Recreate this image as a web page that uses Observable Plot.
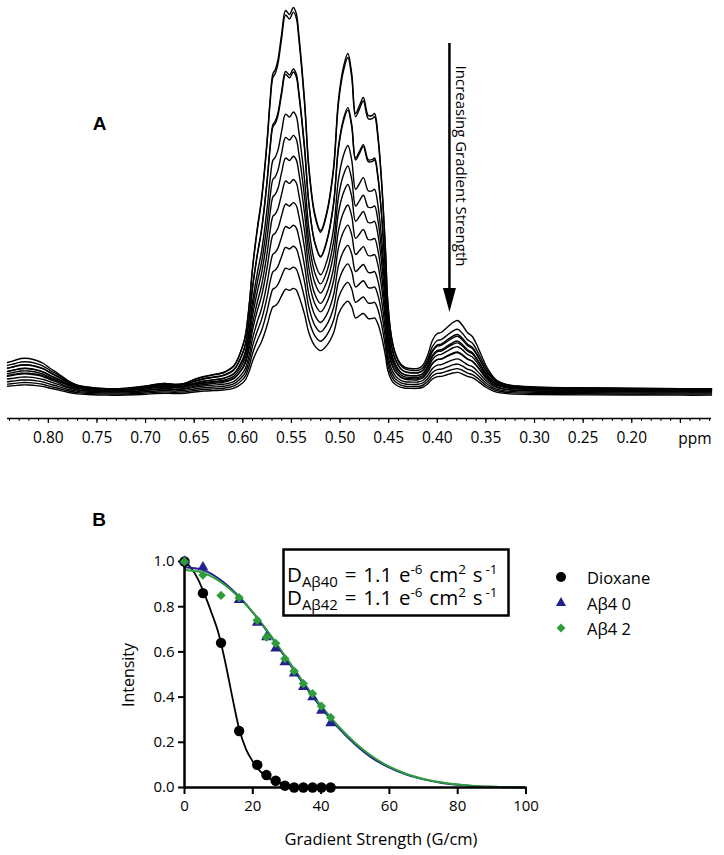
<!DOCTYPE html>
<html><head><meta charset="utf-8">
<script src="https://cdn.jsdelivr.net/npm/d3@7"></script>
<script src="https://cdn.jsdelivr.net/npm/@observablehq/plot@0.6"></script>
<style>
body{margin:0;background:#fff;width:724px;height:855px;overflow:hidden;}
svg{display:block}
</style></head><body>
<div id="a"></div><div id="b"></div>
<script>
// ---------- Panel A: DOSY stack of 1H spectra ----------
// rows: [ppm, main-peak height (least attenuated trace), minor-signal height]
const spectrum = [
 [0.842,0,28],[0.835,0,30],[0.828,0,32],[0.820,0,32],[0.812,0,30],[0.805,0,27],[0.798,0,22],
 [0.790,0,17],[0.780,0,10],[0.770,0,5],[0.760,0,3],[0.740,0,1],[0.720,0,1.5],[0.700,0,4],
 [0.690,0,6],[0.680,0,7],[0.670,0,6],[0.660,0,7],[0.650,3,8],[0.640,5,9],[0.630,7,9],
 [0.620,10,8],[0.609,18,7],[0.600,40,5],[0.597,52,5],[0.593,85,5],[0.590,118,5],[0.585,158,5],
 [0.581,185,5],[0.5775,218,5],[0.5745,252,5],[0.572,285,5],[0.569,312,5],[0.567,315,5],
 [0.564,325,5],[0.560,352,5],[0.556,375,5],[0.552,371,5],[0.548,378,5],[0.545,372,5],
 [0.5425,352,5],[0.5365,285,5],[0.532,218,5],[0.526,172,5],[0.520,155,5],[0.514,172,5],
 [0.5067,218,5],[0.5017,285,5],[0.4966,318,5],[0.492,332,5],[0.488,312,5],[0.484,272,5],
 [0.480,280,5],[0.476,288,5],[0.471,270,5],[0.467,270,5],[0.4645,272,5],[0.461,250,5],
 [0.458,215,5],[0.456,185,5],[0.453,130,5],[0.451,85,5],[0.447,45,8],[0.443,25,12],
 [0.438,12,15],[0.433,6,17],[0.428,3,19],[0.420,1,21],[0.415,0,25],[0.410,0,35],[0.405,0,50],
 [0.400,0,57],[0.396,0,58],[0.390,0,63],[0.384,0,68],[0.379,0,70],[0.374,0,65],[0.369,0,58],
 [0.364,0,54],[0.360,0,47],[0.355,0,36],[0.350,0,25],[0.345,0,17],[0.340,0,11],[0.335,0,8],
 [0.325,0,5],[0.300,0,3],[0.250,0,2],[0.200,0,1.5],[0.150,0,1],[0.118,0,1]
];
const mainScale  = [1.0,0.987,0.84,0.83,0.73,0.666,0.614,0.556,0.49,0.436,0.384,0.332,0.279];
const minorScale = [1.0,0.86,0.80,0.76,0.72,0.68,0.64,0.58,0.54,0.48,0.42,0.37,0.33];
const baselineOffset = [0,1,0,1,-1,0,-1,-2,0,-2,-3,-4,-5];
const ppmMajorTicks = [0.80,0.75,0.70,0.65,0.60,0.55,0.50,0.45,0.40,0.35,0.30,0.25,0.20,0.15];
const ppmMinorTicks = d3.range(84,11,-1).map(d=>d/100);

const traces = [];
mainScale.forEach((s,i)=>{
  spectrum.forEach(([p,m,n])=>traces.push({trace:i, ppm:p, h: s*m + minorScale[i]*n + baselineOffset[i]}));
});

const FONT = "'Open Sans', sans-serif";
const A = Plot.plot({
  width:724, height:460, marginLeft:7, marginRight:13, marginTop:7, marginBottom:42,
  x:{domain:[0.842,0.118]},
  y:{domain:[-28,383], axis:null},
  style:{fontFamily:FONT, color:"#000", background:"#fff"},
  marks:[
    Plot.line(traces,{x:"ppm", y:"h", z:"trace", stroke:"#000", strokeWidth:1.4, curve:"catmull-rom"}),
    Plot.ruleY([-28],{stroke:"#000", strokeWidth:1.3}),
    Plot.axisX({ticks:ppmMinorTicks, tickSize:3, tickFormat:()=>"", label:null, strokeWidth:1}),
    Plot.axisX({ticks:ppmMajorTicks, tickSize:5, tickPadding:8, label:null, strokeWidth:1.2, fontSize:15.5,
      tickFormat:d=> d>0.17 ? d.toFixed(2) : ""}),
    Plot.text(["ppm"],{frameAnchor:"bottom-right", textAnchor:"end", lineAnchor:"bottom", dy:25, fontSize:15.5})
  ]
});
document.getElementById("a").append(A);

{
  const svg = d3.select(A);
  const sx = A.scale("x"), sy = A.scale("y");
  const ax = sx.apply(0.387);
  svg.append("text").attr("x",99.5).attr("y",123).attr("text-anchor","middle").attr("dominant-baseline","central")
    .attr("font-family","'Liberation Sans', Arial, sans-serif").attr("font-weight","bold").attr("font-size",19).text("A");
  svg.append("line").attr("x1",ax).attr("x2",ax).attr("y1",sy.apply(347)).attr("y2",sy.apply(100))
    .attr("stroke","#000").attr("stroke-width",2.5);
  svg.append("path").attr("d",`M${ax-6.5},${sy.apply(102)}L${ax+6.5},${sy.apply(102)}L${ax},${sy.apply(78)}Z`).attr("fill","#000");
  svg.append("text").attr("transform",`translate(${ax+13},166) rotate(90)`).attr("text-anchor","middle")
    .attr("dominant-baseline","central").attr("font-family",FONT).attr("font-size",15).text("Increasing Gradient Strength");
}

// ---------- Panel B: signal decay vs gradient strength ----------
const gradient = [0,5.4,10.7,16.0,21.3,24.0,26.7,29.4,32.1,34.8,37.5,40.1,42.8];
const dioxane  = [1.0,0.86,0.64,0.25,0.10,0.055,0.03,0.008,0.0,0.0,0.0,0.0,0.0];
const ab40     = [1.0,0.975,NaN,0.83,0.73,0.665,0.615,0.555,0.505,0.445,0.40,0.34,0.285];
const ab42     = [1.0,0.94,0.85,0.84,0.74,0.665,0.638,0.57,0.515,0.46,0.415,0.36,0.31];

const dioxFitG = [0,2,4,6,8,10,12,14,16,18,20,22,24,26,28,30,32,34,36,38,40,43];
const dioxFit  = [1.0,0.97,0.92,0.85,0.77,0.68,0.55,0.40,0.26,0.17,0.115,0.075,0.048,0.03,0.02,0.012,0.007,0.004,0.002,0.001,0,0];
const abFitG   = [0,5,10,15,20,25,30,35,40,45,50,55,60,65,70,75,80,85,90,95,100];
const ab40Fit  = [0.975,0.965,0.925,0.86,0.775,0.675,0.565,0.455,0.355,0.265,0.19,0.13,0.088,0.057,0.036,0.021,0.012,0.006,0.003,0.001,0];
const ab42Fit  = [0.962,0.952,0.915,0.855,0.775,0.678,0.57,0.462,0.362,0.272,0.197,0.137,0.092,0.06,0.038,0.023,0.013,0.007,0.003,0.001,0];
const xTicksB = [0,20,40,60,80,100];
const yTicksB = [0,0.2,0.4,0.6,0.8,1.0];
const seriesNames = ["Dioxane","A\u03b24 0","A\u03b24 2"];
const BLUE = "#22228e", GREEN = "#2f9c3c";

const pts = (ys)=>gradient.map((g,i)=>({g, v:ys[i]})).filter(d=>!Number.isNaN(d.v));
const fit = (xs,ys)=>xs.map((g,i)=>({g, v:ys[i]}));

const B = Plot.plot({
  width:724, height:395, marginLeft:184, marginRight:198.5, marginTop:101, marginBottom:68,
  x:{domain:[0,100]}, y:{domain:[0,1]},
  style:{fontFamily:FONT, color:"#000", background:"#fff"},
  marks:[
    Plot.line(fit(dioxFitG,dioxFit),{x:"g", y:"v", stroke:"#000", strokeWidth:1.8, curve:"monotone-x"}),
    Plot.line(fit(abFitG,ab40Fit),{x:"g", y:"v", stroke:BLUE, strokeWidth:2, curve:"monotone-x"}),
    Plot.line(fit(abFitG,ab42Fit),{x:"g", y:"v", stroke:GREEN, strokeWidth:2, curve:"monotone-x"}),
    Plot.ruleY([0],{stroke:"#000", strokeWidth:2.5}),
    Plot.ruleX([0],{stroke:"#000", strokeWidth:2.5}),
    Plot.axisX({ticks:xTicksB, tickSize:7, tickPadding:6, tickFormat:d=>String(d), label:null, strokeWidth:2, fontSize:15}),
    Plot.axisY({ticks:yTicksB, tickSize:6, tickPadding:4, tickFormat:d=>d.toFixed(1), label:null, strokeWidth:2, fontSize:15}),
    Plot.dot(pts(dioxane),{x:"g", y:"v", r:5.2, fill:"#000", symbol:"circle"}),
    Plot.dot(pts(ab40),{x:"g", y:"v", r:4, fill:BLUE, symbol:"triangle"}),
    Plot.dot(pts(ab42),{x:"g", y:"v", r:4.2, fill:GREEN, symbol:"diamond2"})
  ]
});
document.getElementById("b").append(B);

{
  const svg = d3.select(B);
  const T = (x,y,txt,size,extra={})=>{
    const t = svg.append("text").attr("x",x).attr("y",y).attr("font-family",FONT).attr("font-size",size)
      .attr("text-anchor","start").text(txt);
    for (const k in extra) t.attr(k, extra[k]);
    return t;
  };
  T(99,59,"B",19,{"text-anchor":"middle","dominant-baseline":"central","font-weight":"bold","font-family":"'Liberation Sans', Arial, sans-serif"});
  T(381,378,"Gradient Strength (G/cm)",16.5,{"text-anchor":"middle","dominant-baseline":"central"});
  svg.append("text").attr("transform","translate(128,215) rotate(-90)").attr("text-anchor","middle")
    .attr("dominant-baseline","central").attr("font-family",FONT).attr("font-size",16).text("Intensity");

  // annotation box
  svg.append("rect").attr("x",283.5).attr("y",89.5).attr("width",225).attr("height",66)
    .attr("fill","#fff").attr("stroke","#000").attr("stroke-width",2.5);
  const line = (y, sub)=>{
    const t = svg.append("text").attr("x",287).attr("y",y).attr("font-family",FONT).attr("font-size",20.5)
      .attr("text-anchor","start").attr("word-spacing",1.5);
    t.append("tspan").text("D");
    t.append("tspan").attr("font-size",15).attr("dy",5).text(sub);
    t.append("tspan").attr("dy",-5).text(" = 1.1 e");
    t.append("tspan").attr("font-size",13.5).attr("dy",-8).text("-6");
    t.append("tspan").attr("dy",8).text(" cm");
    t.append("tspan").attr("font-size",13.5).attr("dy",-8).text("2");
    t.append("tspan").attr("dy",8).text(" s");
    t.append("tspan").attr("font-size",13.5).attr("dy",-8).attr("dx",3).text("-1");
  };
  line(122, "A\u03b240");
  line(145, "A\u03b242");

  // legend
  const lx = 561, rows = [117,143,168];
  const syms = [d3.symbolCircle, d3.symbolTriangle, d3.symbolDiamond2];
  const sizes = [Math.PI*25, 45, 50];
  const cols = ["#000", BLUE, GREEN];
  rows.forEach((y,i)=>{
    svg.append("path").attr("d", d3.symbol(syms[i], sizes[i])()).attr("transform",`translate(${lx},${y})`).attr("fill",cols[i]);
    T(587,y,seriesNames[i],16.5,{"dominant-baseline":"central"});
  });
}
</script>
</body></html>
